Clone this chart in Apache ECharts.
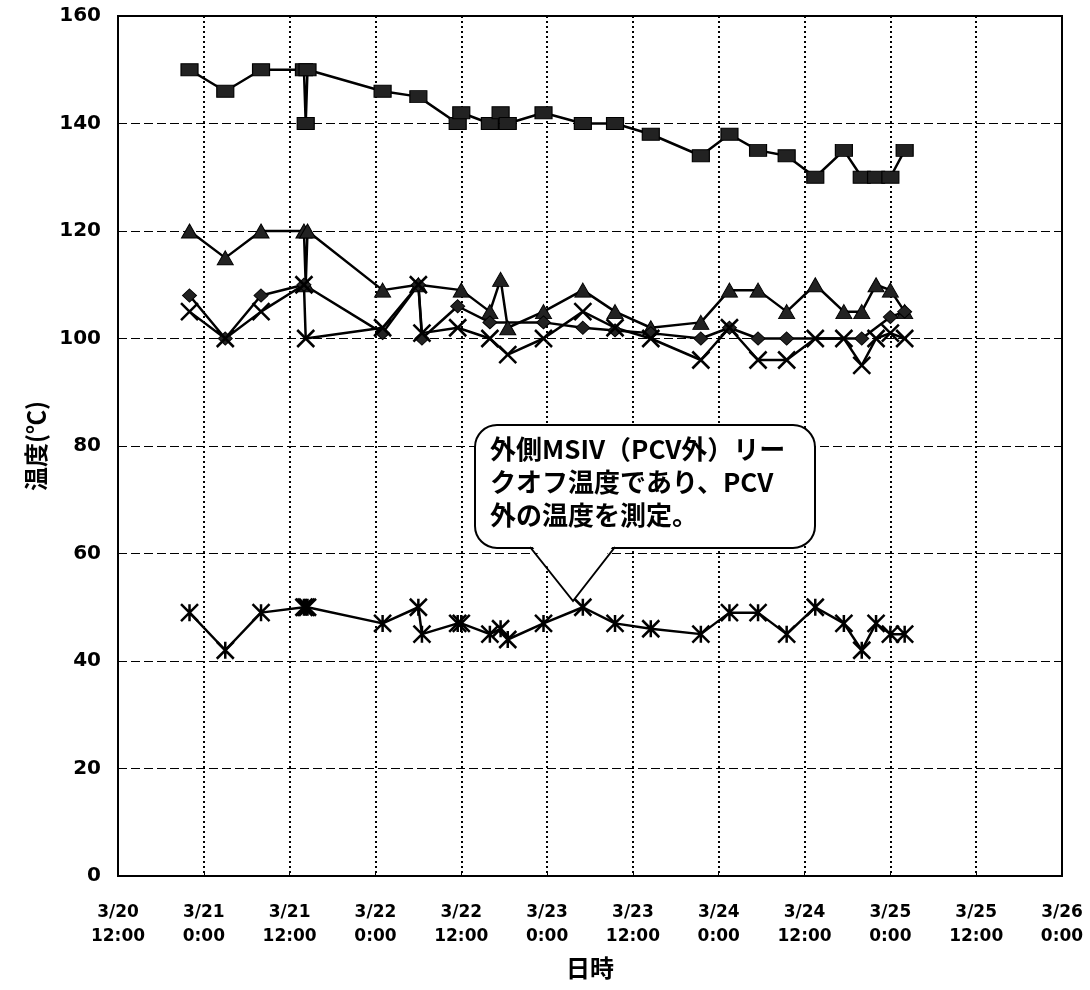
<!DOCTYPE html>
<html><head><meta charset="utf-8">
<script src="https://cdn.jsdelivr.net/npm/echarts@6/dist/echarts.min.js"></script>
<style>html,body{margin:0;padding:0;background:#fff}#c{width:1090px;height:990px}</style>
</head><body><div id="c"></div>
<script>
// measurement times (month/day hour:minute)
const times = ['3/20 22:00','3/21 3:00','3/21 8:00','3/21 14:00','3/21 14:15','3/21 14:30',
  '3/22 1:00','3/22 6:00','3/22 6:30','3/22 11:30','3/22 12:00','3/22 16:00','3/22 17:30','3/22 18:30',
  '3/22 23:30','3/23 5:00','3/23 9:30','3/23 14:30','3/23 21:30','3/24 1:30','3/24 5:30','3/24 9:30',
  '3/24 13:30','3/24 17:30','3/24 20:00','3/24 22:00','3/25 0:00','3/25 2:00'];
// temperature series (°C); null = no reading
const squareTemp   = [150,146,150,150,140,150,146,145,null,140,142,140,142,140,142,140,140,138,134,138,135,134,130,135,130,130,130,135];
const triangleTemp = [120,115,120,120,110,120,109,110,null,null,109,105,111,102,105,109,105,102,103,109,109,105,110,105,105,110,109,105];
const diamondTemp  = [108,100,108,110,null,null,101,110,100,106,null,103,null,null,103,102,101.5,101,100,102,100,100,null,null,100,null,104,105];
const crossTemp    = [105,100,105,110,100,null,102,110,101,102,null,100,null,97,100,105,102,100,96,102,96,96,100,100,95,100,101,100];
const starTemp     = [49,42,49,50,50,50,47,50,45,47,47,45,46,44,47,50,47,46,45,49,49,45,50,47,42,47,45,45];
// axis tick labels
const xTickLabels = ['3/20\n12:00','3/21\n0:00','3/21\n12:00','3/22\n0:00','3/22\n12:00','3/23\n0:00',
  '3/23\n12:00','3/24\n0:00','3/24\n12:00','3/25\n0:00','3/25\n12:00','3/26\n0:00'];
const calloutText = '外側MSIV（PCV外）リー\nクオフ温度であり、PCV\n外の温度を測定。';

function toHours(s){
  const [md, hm] = s.split(' ');
  const d = Number(md.split('/')[1]);
  const [h, mi] = hm.split(':').map(Number);
  return (d - 20) * 24 + h + mi / 60 - 12;
}
function pairs(vals){
  const out = [];
  times.forEach((t,i)=>{ if (vals[i] !== null) out.push([toHours(t), vals[i]]); });
  return out;
}
const numFont = 'DejaVu Sans';
function mk(name, data, symbol, size, extra){
  return Object.assign({
    name, type:'line', data: pairs(data), symbol, symbolSize: size,
    showAllSymbol: true, animation:false,
    lineStyle:{color:'#000', width:2.5},
    itemStyle:{color:'#222', borderColor:'#000', borderWidth:1},
    emphasis:{disabled:true}, z:3
  }, extra || {});
}
const chart = echarts.init(document.getElementById('c'));
chart.setOption({
  backgroundColor:'#fff',
  animation:false,
  grid:{left:118, right:28, top:16, bottom:114, show:true, borderColor:'#000', borderWidth:2, backgroundColor:'#fff'},
  xAxis:{
    type:'value', min:0, max:132, interval:12,
    name:'日時', nameLocation:'middle', nameGap:80,
    nameTextStyle:{fontSize:24, fontWeight:'bold', color:'#000', fontFamily:'Noto Sans CJK JP'},
    axisLine:{show:true, lineStyle:{color:'#000', width:2}},
    axisTick:{show:true, inside:true, length:5, lineStyle:{color:'#000'}},
    axisLabel:{formatter:(v)=>xTickLabels[Math.round(v/12)] || '', color:'#000', fontSize:17, fontWeight:'bold',
      fontFamily:numFont, lineHeight:24, margin:25, showMinLabel:true, showMaxLabel:true},
    splitLine:{show:true, lineStyle:{color:'#000', width:2, type:[2,3]}}
  },
  yAxis:{
    type:'value', min:0, max:160, interval:20,
    name:'温度(℃)', nameLocation:'middle', nameGap:70, nameRotate:90,
    nameTextStyle:{fontSize:24, fontWeight:'bold', color:'#000', fontFamily:'Noto Sans CJK JP'},
    axisLine:{show:true, lineStyle:{color:'#000', width:2}},
    axisTick:{show:true, inside:true, length:5, lineStyle:{color:'#000'}},
    axisLabel:{color:'#000', fontSize:20, fontWeight:'bold', fontFamily:numFont, margin:17},
    splitLine:{show:true, lineStyle:{color:'#000', width:1.2, type:[9,4]}}
  },
  series:[
    mk('square', squareTemp, 'rect', [17,12]),
    mk('triangle', triangleTemp, 'triangle', [16,14]),
    mk('diamond', diamondTemp, 'diamond', [14,13]),
    mk('cross', crossTemp, 'path://M0,0L10,10M10,0L0,10', 17, {itemStyle:{color:'#000', borderColor:'#000', borderWidth:2.5}}),
    mk('star', starTemp, 'path://M0,0L10,10M10,0L0,10M5,0L5,10', 17, {itemStyle:{color:'#000', borderColor:'#000', borderWidth:2.5}})
  ],
  graphic:[
    {type:'rect', z:100, shape:{x:475, y:425, width:340, height:123, r:22}, style:{fill:'#fff', stroke:'#000', lineWidth:2}},
    {type:'polygon', z:101, shape:{points:[[532,546],[573,600],[613,546]]}, style:{fill:'#fff', stroke:null}},
    {type:'polyline', z:102, shape:{points:[[530,547],[573,601],[615,547]]}, style:{stroke:'#000', lineWidth:2, fill:null}},
    {type:'text', z:103, x:490, y:433, style:{text:calloutText, fontSize:26, fontWeight:'bold',
      fontFamily:'Noto Sans CJK JP', fill:'#000', lineHeight:33}}
  ]
});
</script></body></html>
